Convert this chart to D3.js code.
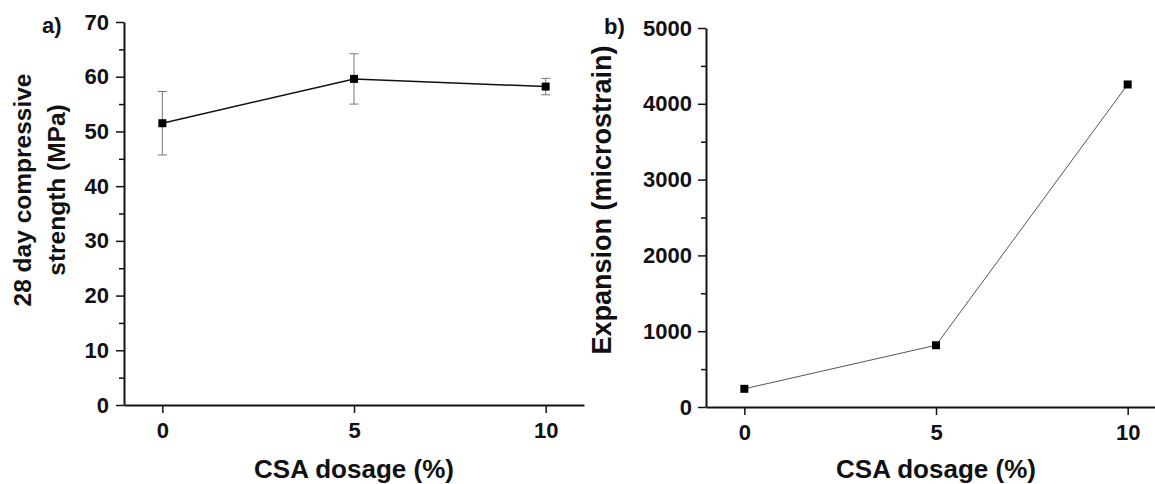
<!DOCTYPE html>
<html>
<head>
<meta charset="utf-8">
<script src="https://cdn.jsdelivr.net/npm/d3@7"></script>
<style>
  html, body { margin: 0; padding: 0; background: #fff; }
  svg { display: block; }
  .title { font-family: "Liberation Sans", Arial, sans-serif; font-weight: bold; font-size: 25px; fill: #111; }
</style>
</head>
<body>
<svg id="chart" width="1155" height="484"></svg>
<script>
// CSA dosage levels (%)
const dosage = [0, 5, 10];
// 28 day compressive strength (MPa) with standard deviation
const strength = [51.5, 59.6, 58.2];
const strengthErr = [5.8, 4.6, 1.5];
// Expansion (microstrain)
const expansion = [240, 815, 4255];

const xTicks = [0, 5, 10];
const strengthTicks = [0, 10, 20, 30, 40, 50, 60, 70];
const strengthMinor = [5, 15, 25, 35, 45, 55, 65];
const expansionTicks = [0, 1000, 2000, 3000, 4000, 5000];
const expansionMinor = [500, 1500, 2500, 3500, 4500];

const svg = d3.select("#chart");

function styleAxis(a) {
  a.attr("font-family", "Liberation Sans, Arial, sans-serif").attr("font-size", 22);
  a.select(".domain").attr("stroke", "#111").attr("stroke-width", 2);
  a.selectAll(".tick line").attr("stroke", "#111").attr("stroke-width", 1.5);
  a.selectAll(".tick text")
    .style("font-family", "'Liberation Sans', Arial, sans-serif")
    .style("font-weight", "bold")
    .style("font-size", "22px")
    .attr("fill", "#111");
}

function panel(opts) {
  const g = svg.append("g");
  const x = d3.scaleLinear().domain([-1, 11]).range(opts.xRange);
  const y = d3.scaleLinear().domain(opts.yDomain).range(opts.yRange);

  // minor y ticks
  g.append("g")
    .attr("transform", `translate(${opts.xRange[0]},0)`)
    .call(d3.axisLeft(y).tickValues(opts.yMinor).tickSize(5).tickFormat("").tickSizeOuter(0))
    .call(a => a.select(".domain").remove())
    .call(a => a.selectAll("line").attr("stroke", "#111").attr("stroke-width", 1.5));

  // major y ticks + axis line
  g.append("g")
    .attr("transform", `translate(${opts.xRange[0]},0)`)
    .call(d3.axisLeft(y).tickValues(opts.yTicks).tickFormat(d3.format("d"))
      .tickSize(8).tickPadding(opts.yPad).tickSizeOuter(0))
    .call(styleAxis);

  // x axis
  g.append("g")
    .attr("transform", `translate(0,${opts.yRange[0]})`)
    .call(d3.axisBottom(x).tickValues(xTicks).tickFormat(d3.format("d"))
      .tickSize(8).tickPadding(9).tickSizeOuter(0))
    .call(styleAxis);

  // error bars
  if (opts.err) {
    const eb = g.append("g").attr("stroke", "#777").attr("stroke-width", 1);
    opts.values.forEach((v, i) => {
      const cx = x(dosage[i]);
      eb.append("line").attr("x1", cx).attr("x2", cx)
        .attr("y1", y(v - opts.err[i])).attr("y2", y(v + opts.err[i]));
      [v - opts.err[i], v + opts.err[i]].forEach(e => {
        eb.append("line").attr("x1", cx - 4.5).attr("x2", cx + 4.5)
          .attr("y1", y(e)).attr("y2", y(e));
      });
    });
  }

  // connecting line
  g.append("path")
    .datum(opts.values)
    .attr("fill", "none")
    .attr("stroke", opts.lineColor)
    .attr("stroke-width", opts.lineWidth)
    .attr("d", d3.line().x((d, i) => x(dosage[i])).y(d => y(d)));

  // square markers
  g.selectAll("rect.pt")
    .data(opts.values)
    .join("rect")
    .attr("class", "pt")
    .attr("x", (d, i) => x(dosage[i]) - 4)
    .attr("y", d => y(d) - 4)
    .attr("width", 8)
    .attr("height", 8)
    .attr("fill", "#000");

  // x axis title
  g.append("text").attr("class", "title")
    .style("font-size", "26px")
    .attr("x", x(5)).attr("y", 478)
    .attr("text-anchor", "middle")
    .text("CSA dosage (%)");

  // y axis title (one or more lines)
  opts.yTitle.forEach((t, k) => {
    g.append("text").attr("class", "title")
      .style("font-size", opts.yTitleSize + "px")
      .attr("transform", `translate(${opts.yTitleX[k]},${opts.yTitleY}) rotate(-90)`)
      .attr("text-anchor", "middle")
      .text(t);
  });

  // panel letter
  g.append("text").attr("class", "title")
    .style("font-size", "22px")
    .attr("x", opts.letterX).attr("y", opts.letterY)
    .text(opts.letter);
}

panel({
  xRange: [124, 584],
  yDomain: [0, 70],
  yRange: [405, 22],
  yTicks: strengthTicks,
  yMinor: strengthMinor,
  yPad: 7,
  values: strength,
  err: strengthErr,
  lineColor: "#111",
  lineWidth: 1.5,
  yTitle: ["28 day compressive", "strength (MPa)"],
  yTitleX: [31, 65],
  yTitleY: 190,
  yTitleSize: 24.5,
  letter: "a)",
  letterX: 42,
  letterY: 33
});

panel({
  xRange: [706, 1166],
  yDomain: [0, 5000],
  yRange: [407, 28],
  yTicks: expansionTicks,
  yMinor: expansionMinor,
  yPad: 6,
  values: expansion,
  err: null,
  lineColor: "#555",
  lineWidth: 1,
  yTitle: ["Expansion (microstrain)"],
  yTitleX: [611],
  yTitleY: 200,
  yTitleSize: 27,
  letter: "b)",
  letterX: 604,
  letterY: 34
});
</script>
</body>
</html>
